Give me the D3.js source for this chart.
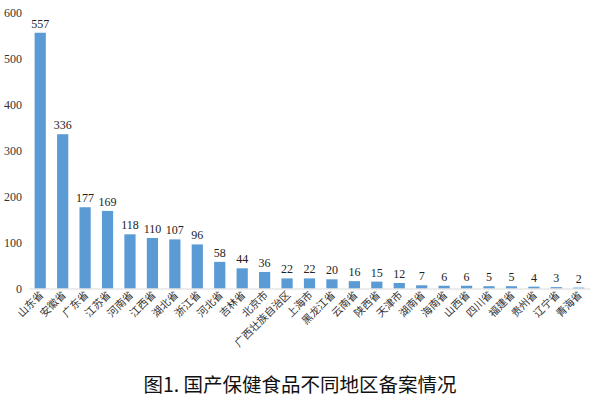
<!DOCTYPE html>
<html><head><meta charset="utf-8">
<script src="https://cdn.jsdelivr.net/npm/d3@7"></script>
<style>body{margin:0;background:#fff}</style>
</head><body>
<svg id="c" width="600" height="400"></svg>
<script>
const categories = ["山东省","安徽省","广东省","江苏省","河南省","江西省","湖北省","浙江省","河北省","吉林省","北京市","广西壮族自治区","上海市","黑龙江省","云南省","陕西省","天津市","湖南省","海南省","山西省","四川省","福建省","贵州省","辽宁省","青海省"];
const values = [557,336,177,169,118,110,107,96,58,44,36,22,22,20,16,15,12,7,6,6,5,5,4,3,2];
const yTicks = [0,100,200,300,400,500,600];
const title = "图1. 国产保健食品不同地区备案情况";

const svg = d3.select("#c");
const serif = "'Liberation Serif','Times New Roman',serif";
const cjk = "'Noto Sans CJK SC',sans-serif";
const x = d3.scaleBand().domain(categories).range([29,590]).paddingInner(0.5).paddingOuter(0.25);
const y = d3.scaleLinear().domain([0,600]).range([288.5,13]);

const ya = svg.append("g").attr("transform","translate(29,0)")
  .call(d3.axisLeft(y).tickValues(yTicks).tickSize(0).tickPadding(7));
ya.select(".domain").remove();
ya.selectAll("text").attr("font-family",serif).attr("font-size",12).attr("fill","#333");

svg.selectAll("rect.bar").data(values).join("rect").attr("class","bar")
  .attr("x",(d,i)=>x(categories[i])).attr("width",x.bandwidth())
  .attr("y",d=>y(d)).attr("height",d=>y(0)-y(d)).attr("fill","#5B9BD5");

svg.selectAll("text.val").data(values).join("text").attr("class","val")
  .attr("x",(d,i)=>x(categories[i])+x.bandwidth()/2).attr("y",d=>y(d)-5)
  .attr("text-anchor","middle").attr("font-family",serif).attr("font-size",12).attr("fill","#222")
  .text(d=>d);

const xa = svg.append("g").attr("transform",`translate(0,${y(0)})`)
  .call(d3.axisBottom(x).tickSize(0).tickPadding(0));
xa.select(".domain").attr("stroke","#d9d9d9");
xa.selectAll("text").attr("font-family",cjk).attr("font-size",10.5).attr("fill","#333")
  .attr("text-anchor","end").attr("dy",0)
  .attr("transform","translate(4,7) rotate(-45)");

svg.append("text").attr("x",300).attr("y",392).attr("text-anchor","middle")
  .attr("font-family",cjk).attr("font-size",19.5).attr("fill","#111").text(title);
</script>
</body></html>
